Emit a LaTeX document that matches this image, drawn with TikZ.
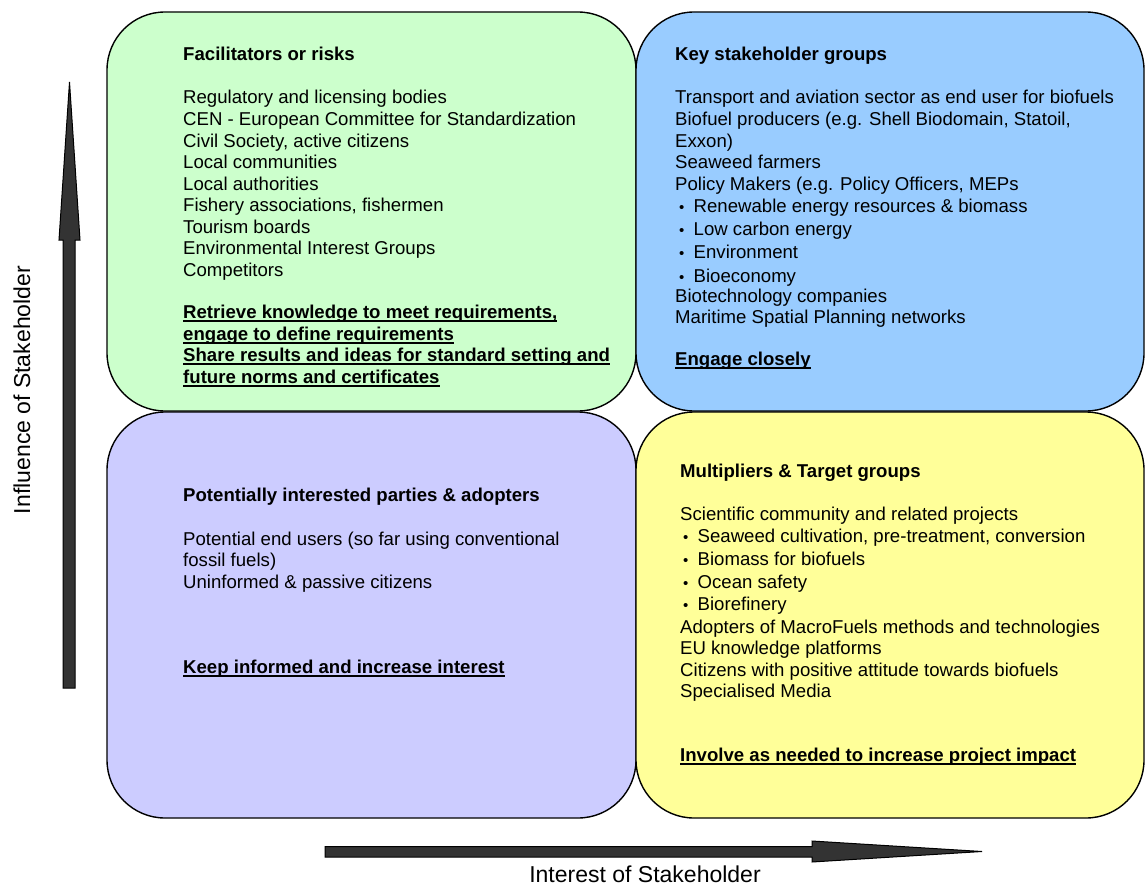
\documentclass[tikz,border=0pt]{standalone}
\usepackage{fontspec}
\setmainfont{Liberation Sans}
\definecolor{facgreen}{HTML}{CCFFCC}
\definecolor{keyblue}{HTML}{99CCFF}
\definecolor{potviolet}{HTML}{CCCCFF}
\definecolor{mulyellow}{HTML}{FFFF99}
\definecolor{axisgray}{HTML}{333333}
\tikzstyle{quadrant} = [draw=black, line width=1.4pt, rounded corners=58pt]
\tikzstyle{item} = [anchor=base west, inner sep=0pt, font=\fontsize{18.6}{21.5}\selectfont]
\tikzstyle{heading} = [item, font=\fontsize{18.6}{21.5}\selectfont\bfseries]
\tikzstyle{axisarrow} = [draw=black, fill=axisgray, line width=1pt]
\tikzstyle{axislabel} = [inner sep=0pt, font=\fontsize{23}{26}\selectfont]
\newcommand{\ulbold}[1]{\setbox0\hbox{\bfseries #1}\rlap{\rule[-3.6pt]{\wd0}{1.7pt}}\box0}
\newcommand{\smallbul}{\makebox[14.5pt][l]{\fontsize{15}{15}\selectfont\textbullet}}

\begin{document}
\begin{tikzpicture}[x=1pt, y=-1pt]
      \useasboundingbox (0,0) rectangle (1145,888);
      % quadrants
      \draw[quadrant, fill=facgreen] (107,12) rectangle (636,411);
      \draw[quadrant, fill=keyblue] (636,12) rectangle (1144,411);
      \draw[quadrant, fill=potviolet] (107,412) rectangle (636,818);
      \draw[quadrant, fill=mulyellow] (636,412) rectangle (1144,818);
      % axes
      \filldraw[axisarrow] (63,688) -- (63,240) -- (59,240) -- (69.5,82) -- (80,240) -- (75,240) -- (75,688) -- cycle;
      \filldraw[axisarrow] (325,846.5) -- (812,846.5) -- (812,841) -- (982,851.5) -- (812,862) -- (812,857) -- (325,857) -- cycle;
      \node[axislabel, rotate=90] (influence) at (22,390) {Influence of Stakeholder};
      \node[axislabel] (interest) at (645,874) {Interest of Stakeholder};
      % facilitators or risks
      \node[heading] (fachead) at (183,61) {Facilitators or risks};
      \foreach \y/\t [count=\i] in {104/{Regulatory and licensing bodies}, 125.5/{CEN - European Committee for Standardization}, 147/{Civil Society, active citizens}, 168.5/{Local communities}, 190/{Local authorities}, 211.5/{Fishery associations, fishermen}, 233/{Tourism boards}, 254.5/{Environmental Interest Groups}, 276/{Competitors}}
        \node[item] (fac\i) at (183,\y) {\t};
      \foreach \y/\t [count=\i] in {318.5/{Retrieve knowledge to meet requirements,}, 340/{engage to define requirements}, 361.5/{Share results and ideas for standard setting and}, 383/{future norms and certificates}}
        \node[item] (facact\i) at (183,\y) {\ulbold{\t}};
      % key stakeholder groups
      \node[heading] (keyhead) at (675,61) {Key stakeholder groups};
      \foreach \y/\t [count=\i] in {104/{Transport and aviation sector as end user for biofuels}, 125.5/{Biofuel producers (e.g. Shell Biodomain, Statoil,}, 147/{Exxon)}, 168.5/{Seaweed farmers}, 190/{Policy Makers (e.g. Policy Officers, MEPs}, 302/{Biotechnology companies}, 323.5/{Maritime Spatial Planning networks}}
        \node[item] (key\i) at (675,\y) {\t};
      \foreach \y/\t [count=\i] in {212.5/{Renewable energy resources \& biomass}, 235.5/{Low carbon energy}, 258/{Environment}, 282/{Bioeconomy}}
        \node[item] (keysub\i) at (679,\y) {\smallbul\t};
      \node[item] (keyact) at (675,365) {\ulbold{Engage closely}};
      % potentially interested parties
      \node[heading] (pothead) at (183,501.5) {Potentially interested parties \& adopters};
      \foreach \y/\t [count=\i] in {545/{Potential end users (so far using conventional}, 566.5/{fossil fuels)}, 588/{Uninformed \& passive citizens}}
        \node[item] (pot\i) at (183,\y) {\t};
      \node[item] (potact) at (183,673) {\ulbold{Keep informed and increase interest}};
      % multipliers and target groups
      \node[heading] (mulhead) at (680,477.5) {Multipliers \& Target groups};
      \foreach \y/\t [count=\i] in {520/{Scientific community and related projects}, 633/{Adopters of MacroFuels methods and technologies}, 654.5/{EU knowledge platforms}, 676/{Citizens with positive attitude towards biofuels}, 697.5/{Specialised Media}}
        \node[item] (mul\i) at (680,\y) {\t};
      \foreach \y/\t [count=\i] in {542/{Seaweed cultivation, pre-treatment, conversion}, 565/{Biomass for biofuels}, 588/{Ocean safety}, 610.5/{Biorefinery}}
        \node[item] (mulsub\i) at (683,\y) {\smallbul\t};
      \node[item] (mulact) at (680,761.5) {\ulbold{Involve as needed to increase project impact}};
    \end{tikzpicture}
\end{document}
